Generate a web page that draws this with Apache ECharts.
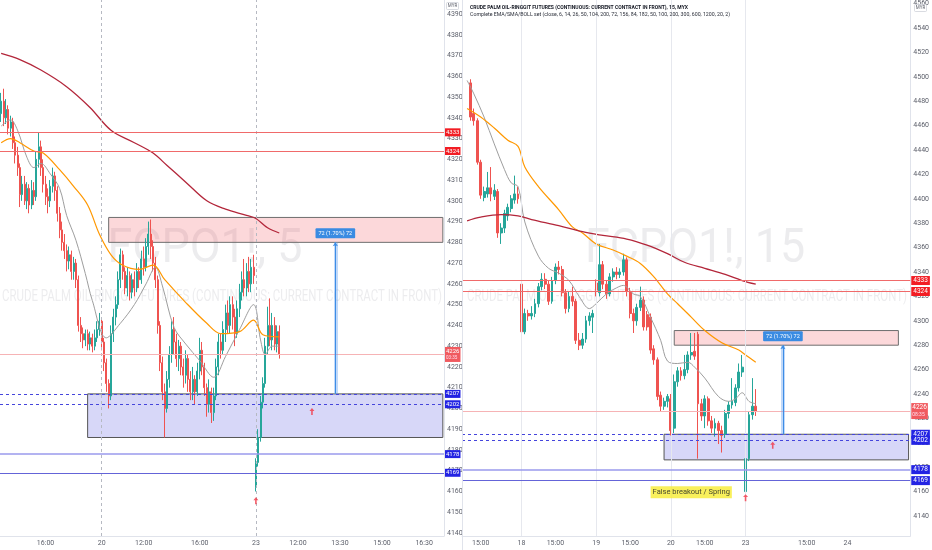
<!DOCTYPE html>
<html><head><meta charset="utf-8">
<script src="https://cdn.jsdelivr.net/npm/echarts/dist/echarts.min.js"></script>
<style>html,body{margin:0;padding:0;background:#fff}#c{width:932px;height:550px}</style>
</head><body><div id="c"></div>
<script>
// ---------- DATA ----------
// 5-minute panel (left): [open, close, low, high], first bar at category 0
const leftCandles = [
[4342,4348,4338,4352],[4348,4340,4336,4354],[4340,4344,4337,4349],[4344,4335,4332,4346],[4335,4338,4331,4341],
[4338,4328,4325,4340],[4328,4322,4318,4331],[4322,4316,4312,4326],[4316,4303,4297,4318],[4303,4308,4300,4312],
[4308,4300,4298,4312],[4300,4306,4296,4309],[4306,4298,4294,4308],[4298,4305,4296,4310],[4305,4302,4298,4309],
[4302,4320,4300,4324],[4320,4326,4316,4333],[4326,4316,4312,4329],[4316,4308,4304,4320],[4308,4302,4298,4312],
[4302,4300,4294,4306],[4300,4307,4297,4310],[4307,4312,4304,4316],[4312,4305,4300,4314],[4305,4294,4290,4307],
[4294,4286,4282,4297],[4286,4280,4276,4290],[4280,4276,4272,4284],[4276,4271,4266,4279],[4271,4274,4267,4278],
[4274,4266,4262,4276],[4266,4270,4262,4273],[4270,4262,4258,4272],[4262,4240,4237,4264],[4240,4236,4232,4244],
[4236,4233,4229,4239],[4233,4236,4230,4238],[4236,4231,4228,4238],[4231,4234,4228,4237],[4234,4230,4227,4236],
[4230,4234,4228,4238],[4234,4238,4232,4242],[4238,4242,4235,4246],
[4242,4232,4228,4244],[4232,4222,4218,4234],[4222,4212,4208,4224],[4212,4206,4200,4214],[4206,4236,4204,4240],
[4236,4244,4232,4248],[4244,4250,4240,4254],[4250,4262,4248,4266],[4262,4274,4258,4277],[4274,4266,4262,4276],
[4266,4258,4255,4268],[4258,4264,4254,4268],[4264,4256,4252,4266],[4256,4262,4253,4265],[4262,4258,4254,4266],
[4258,4266,4256,4270],[4266,4262,4258,4268],[4262,4272,4260,4276],[4272,4268,4264,4278],[4268,4278,4266,4282],
[4278,4284,4274,4290],[4284,4278,4272,4291],[4278,4270,4266,4281],[4270,4262,4258,4273],[4262,4240,4236,4264],
[4240,4222,4218,4242],[4222,4208,4204,4225],[4208,4200,4186,4212],[4200,4214,4198,4218],[4214,4226,4210,4230],
[4226,4238,4222,4242],[4238,4232,4226,4244],[4232,4224,4220,4236],[4224,4230,4218,4233],[4230,4220,4216,4232],
[4220,4216,4210,4224],[4216,4224,4212,4228],[4224,4214,4208,4226],[4214,4208,4204,4218],[4208,4214,4204,4220],
[4214,4208,4202,4216],[4208,4218,4206,4222],[4218,4228,4214,4234],[4228,4220,4216,4232],[4220,4210,4206,4222],
[4210,4202,4196,4212],[4202,4208,4198,4214],[4208,4198,4193,4210],[4198,4206,4194,4210],[4206,4220,4204,4224],
[4220,4232,4216,4236],[4232,4228,4224,4236],[4228,4238,4226,4242],[4238,4246,4232,4250],[4246,4240,4236,4252],
[4240,4250,4236,4254],[4250,4244,4238,4254],[4244,4236,4230,4248],[4236,4248,4234,4252],[4248,4256,4244,4260],
[4256,4262,4252,4266],[4262,4258,4254,4272],[4258,4266,4254,4270],[4266,4260,4256,4273],[4260,4268,4256,4272],
[4268,4264,4260,4274],
[4162,4174,4160,4176],[4174,4186,4172,4190],[4186,4203,4184,4206],[4203,4212,4200,4215],[4212,4230,4210,4234],
[4230,4240,4226,4249],[4240,4233,4230,4253],[4233,4240,4228,4246],[4240,4231,4228,4244],[4231,4237,4227,4240],
[4237,4226,4224,4240]
];
const leftFirstIndex = 0;
// 15-minute panel (right): [open, close, low, high], first bar at category 2
const rightCandles = [
[4495,4467,4464,4498],[4470,4464,4460,4474],[4464,4430,4428,4466],[4430,4403,4400,4432],[4401,4406,4398,4410],
[4404,4409,4401,4422],[4409,4404,4398,4426],[4402,4407,4399,4412],[4406,4372,4368,4408],[4372,4376,4363,4380],
[4376,4388,4372,4391],[4386,4393,4382,4396],[4392,4400,4389,4403],[4399,4404,4396,4419],[4404,4400,4396,4410],
[4330,4291,4288,4342],[4291,4306,4289,4310],[4306,4304,4300,4309],[4304,4306,4301,4312],[4306,4314,4303,4318],
[4314,4328,4311,4331],[4328,4334,4325,4339],[4334,4330,4326,4339],[4330,4316,4313,4333],[4316,4333,4314,4336],
[4333,4344,4330,4347],[4344,4342,4338,4349],[4342,4323,4320,4345],[4323,4310,4306,4326],[4310,4320,4307,4324],
[4320,4316,4312,4328],[4316,4284,4281,4318],[4284,4280,4276,4290],[4280,4285,4277,4290],[4285,4300,4282,4304],
[4300,4304,4296,4307],[4303,4306,4290,4309],
[4331,4325,4320,4334],[4323,4346,4320,4363],[4346,4330,4326,4349],[4330,4322,4318,4333],[4322,4336,4320,4339],
[4336,4340,4332,4343],[4340,4338,4334,4344],[4338,4340,4335,4343],[4340,4350,4337,4355],[4350,4324,4320,4352],
[4324,4306,4302,4327],[4306,4300,4290,4310],[4300,4311,4296,4314],[4311,4317,4308,4328],[4317,4295,4292,4320],
[4305,4295,4292,4308],[4303,4276,4273,4306],[4277,4268,4264,4280],[4268,4238,4235,4270],[4239,4230,4226,4242],
[4230,4234,4227,4237],[4234,4238,4229,4240],
[4236,4210,4206,4240],[4212,4250,4208,4256],[4250,4259,4246,4262],[4259,4255,4251,4262],[4255,4260,4252,4272],
[4260,4272,4257,4275],[4272,4274,4268,4290],[4275,4271,4268,4290],[4289,4232,4187,4291],[4232,4222,4218,4236],
[4222,4236,4212,4239],[4236,4218,4214,4238],[4218,4212,4208,4222],[4212,4216,4205,4220],[4216,4210,4199,4218],
[4210,4206,4192,4214],[4207,4224,4204,4227],[4224,4231,4220,4234],[4231,4234,4228,4253],[4233,4245,4230,4248],
[4245,4258,4242,4265],[4258,4262,4254,4272],
[4160,4187,4159,4190],[4187,4223,4185,4226],[4223,4230,4219,4253],[4230,4226,4222,4244]
];
const rightFirstIndex = 2;

// moving averages: [category index, value]
const leftFast = [[0,4336],[4,4339],[7,4334],[11,4321],[14,4316],[17,4318],[21,4313],[25,4306],[28,4293],[32,4281],[36,4265],[39,4252],[45,4234],[51,4241],[57,4250],[62,4260],[66,4268],[69,4259],[74,4239],[79,4231],[85,4223],[91,4215],[96,4225],[102,4238],[108,4250],[111,4233],[113,4226],[116,4230],[119,4230]];
const leftMid = [[0,4328],[4,4330],[8,4328],[14,4324],[18,4323],[25,4315],[31,4307],[37,4298],[42,4284],[47,4274],[52,4269],[59,4267],[65,4269],[70,4262],[79,4251],[88,4241],[94,4236],[102,4237],[108,4242.5],[112,4235.5],[119,4234.5]];
const leftSlow = [[0,4371],[8,4368],[17,4363],[28,4355],[38,4345],[47,4334],[57,4328],[65,4323],[71,4317],[79,4309],[88,4300],[96,4296],[105,4293],[109,4291.5],[114,4287],[119,4284.5]];
const rightFast = [[1,4497],[3,4486],[6,4467],[9,4445],[12,4424],[14,4413],[16,4410],[18,4381],[22,4353],[25,4343],[28,4339],[31,4333],[34,4320],[37,4310],[39,4314],[42,4322],[45,4327],[47,4329],[50,4322],[52,4320],[55,4303],[58,4284],[60,4267],[63,4265],[66,4266],[68,4262],[71,4253],[75,4238],[78,4234],[80,4236],[82,4241],[84,4234],[86,4232]];
const rightMid = [[1,4474],[5,4467],[9,4458],[13,4448],[16,4443],[18,4426],[22,4410],[28,4391],[32,4377],[35,4372],[39,4363],[44,4358],[48,4353],[52,4347],[56,4336],[60,4322],[63,4314],[67,4303],[71,4292],[76,4282],[81,4276],[83,4272],[86,4266]];
const rightSlow = [[1,4382],[5,4385],[11,4387],[16,4386],[20,4383],[28,4378],[35,4373],[41,4370],[48,4367],[54,4362],[60,4355],[65,4348],[71,4343],[77,4338],[82,4333],[86,4330]];

// price levels
const resistanceLevels = [4333, 4324];
const dashedLevels = [4207, 4202];
const supportLevels = [4178, 4169];
const lastPrice = 4226;
const leftCountdown = '03:35';
const rightCountdown = '08:35';
const supplyZone = [4280, 4292];
const demandZone = [4186, 4207];
const leftZoneIdx = { supply: [46, 189], demand: [37, 189] };
const rightZoneIdx = { supply: [62, 128], demand: [59, 131] };
const measure = { from: 4207, to: 4280, text: '72 (1.70%) 72', leftIdx: 143, rightIdx: 94 };
const leftArrows = [[133, 4198.5], [109, 4155.5]];
const rightArrows = [[91, 4198], [83, 4155]];
const noteText = 'False breakout / Spring';
const notePoint = [67, 4159.5];
const leftDaySeps = [43, 109];
const rightDaySeps = [17, 39, 61, 83];

// axis categories & tick labels
const leftCount = 190, rightCount = 132;
const leftTickIdx = [19, 43, 61, 85, 109, 127, 145, 163, 181];
const leftTickText = ['16:00', '20', '12:00', '16:00', '23', '12:00', '13:30', '15:00', '16:30'];
const rightTickIdx = [5, 17, 27, 39, 49, 61, 71, 83, 101, 113];
const rightTickText = ['15:00', '18', '15:00', '19', '15:00', '20', '15:00', '23', '15:00', '24'];

const titleLine1 = 'CRUDE PALM OIL-RINGGIT FUTURES (CONTINUOUS: CURRENT CONTRACT IN FRONT), 15, MYX';
const titleLine2 = 'Complete EMA/SMA/BOLL set (close, 6, 14, 26, 50, 104, 200, 72, 156, 84, 182, 50, 100, 200, 300, 600, 1200, 20, 2)';
const wmLeft = 'FCPO1!, 5', wmRight = 'FCPO1!, 15';
const wmSub = 'CRUDE PALM OIL-RINGGIT FUTURES (CONTINUOUS: CURRENT CONTRACT IN FRONT)';

// ---------- CHART ----------
const UP = '#26a69a', DOWN = '#ef5350';
const RED_LBL = '#f21d24', BLUE_LBL = '#2323e3', LAST_LBL = '#f05a5f';
const ARROW = 'path://M5,0 L10,5 L6.6,5 L6.6,12 L3.4,12 L3.4,5 L0,5 Z';
const mctx = document.createElement('canvas').getContext('2d');
function fit(text, font, w) { mctx.font = font; return w / mctx.measureText(text).width; }

function levelLines(labelSize, pad) {
  const lbl = (bg) => ({ show: true, position: 'end', distance: 1, color: '#fff', backgroundColor: bg,
    fontSize: labelSize, fontFamily: 'Roboto', padding: pad, formatter: '{c}' });
  const out = [];
  resistanceLevels.forEach(v => out.push({ yAxis: v, lineStyle: { color: '#f06a6a', width: 1, type: 'solid' }, label: lbl(RED_LBL) }));
  dashedLevels.forEach(v => out.push({ yAxis: v, lineStyle: { color: '#4545dc', width: 1, type: [3, 3] }, label: lbl(BLUE_LBL) }));
  out.push({ yAxis: supportLevels[0], lineStyle: { color: '#9a9aec', width: 1.6, type: 'solid' }, label: lbl(BLUE_LBL) });
  out.push({ yAxis: supportLevels[1], lineStyle: { color: '#6464d8', width: 1, type: 'solid' }, label: lbl(BLUE_LBL) });
  return out;
}
function lastLine(countdown, labelSize) {
  return { yAxis: lastPrice, lineStyle: { color: '#f6b3b5', width: 1, type: 'solid' },
    label: { show: true, position: 'end', distance: 1, backgroundColor: LAST_LBL, color: '#fff', fontFamily: 'Roboto',
      padding: [1, 1], formatter: '{a|' + lastPrice + '}\n{b|' + countdown + '}',
      rich: { a: { fontSize: labelSize, lineHeight: labelSize + 1, color: '#fff' }, b: { fontSize: labelSize - 1.5, lineHeight: labelSize, color: '#fde' } } } };
}
function daySepLines(idx, dashed) {
  return idx.map(i => ({ xAxis: i, lineStyle: dashed ? { color: '#b6b9c2', width: 1, type: [3, 3] } : { color: '#e6e8ee', width: 1, type: 'solid' }, label: { show: false } }));
}
function measureLine(i) {
  return [
    [{ coord: [i, measure.from], symbol: 'none', lineStyle: { color: 'rgba(100,160,240,0.4)', width: 4, type: 'solid' }, label: { show: false } },
     { coord: [i, measure.to], symbol: 'none' }],
    [{ coord: [i, measure.from], symbol: 'none', lineStyle: { color: '#3d8de6', width: 1, type: 'solid' },
       label: { show: true, position: 'end', distance: 4, formatter: measure.text, color: '#fff', backgroundColor: '#3a8be2',
         fontSize: 5.5, fontFamily: 'Roboto', padding: [2, 3], borderRadius: 1 } },
     { coord: [i, measure.to], symbol: 'arrow', symbolSize: 4 }]
  ];
}
function zones(z) {
  return [
    [{ xAxis: z.supply[0], yAxis: supplyZone[1], itemStyle: { color: 'rgba(242,90,100,0.24)', borderColor: '#6e6e6e', borderWidth: 1 } },
     { xAxis: z.supply[1], yAxis: supplyZone[0] }],
    [{ xAxis: z.demand[0], yAxis: demandZone[1], itemStyle: { color: 'rgba(110,110,230,0.28)', borderColor: '#555', borderWidth: 1 } },
     { xAxis: z.demand[1], yAxis: demandZone[0] }]
  ];
}
function candles(data, first) { return data.map((d, k) => [k + first, d[0], d[1], d[2], d[3]]); }
function maLine(data, color, width, g) {
  return { type: 'line', xAxisIndex: g, yAxisIndex: g, data, smooth: 0.35, showSymbol: false, clip: false, z: 4,
    lineStyle: { color, width }, silent: true };
}
function xAxisFor(g, count, idx, txt) {
  return { type: 'category', gridIndex: g, data: Array.from({ length: count }, (_, i) => String(i)), boundaryGap: true,
    axisLine: { show: true, lineStyle: { color: '#e0e3eb' } }, axisTick: { show: false }, splitLine: { show: false },
    axisLabel: { fontSize: 7, color: '#5d606b', fontFamily: 'Roboto', margin: 4,
      interval: (i) => idx.indexOf(i) >= 0, formatter: (v, i) => { const k = idx.indexOf(i); return k >= 0 ? txt[k] : ''; } } };
}

const wmFont = '49px Roboto';
const wmScale = fit(wmLeft, wmFont, 195);
const subFont = '17px Roboto';
const subScale = fit(wmSub, subFont, 440);
const t1Font = 'bold 6px Roboto', t2Font = '6px Roboto';
const wmColor = 'rgba(120,123,134,0.14)';

const option = {
  animation: false,
  backgroundColor: '#ffffff',
  grid: [
    { left: 0, right: 488, top: 0, bottom: 14, containLabel: false },
    { left: 462, right: 20, top: 0, bottom: 14, containLabel: false }
  ],
  xAxis: [xAxisFor(0, leftCount, leftTickIdx, leftTickText), xAxisFor(1, rightCount, rightTickIdx, rightTickText)],
  yAxis: [
    { type: 'value', gridIndex: 0, position: 'right', min: 4138.55, max: 4396.74, minInterval: 10, maxInterval: 10, scale: true,
      axisLine: { show: true, lineStyle: { color: '#e0e3eb' } }, axisTick: { show: false }, splitLine: { show: false },
      axisLabel: { fontSize: 7, color: '#5d606b', fontFamily: 'Roboto', margin: 3, formatter: v => (Math.abs(v % 10) < 1e-6 ? String(v) : '') } },
    { type: 'value', gridIndex: 1, position: 'right', min: 4123.6, max: 4562.95, minInterval: 20, maxInterval: 20, scale: true,
      axisLine: { show: true, lineStyle: { color: '#e0e3eb' } }, axisTick: { show: false }, splitLine: { show: false },
      axisLabel: { fontSize: 7, color: '#5d606b', fontFamily: 'Roboto', margin: 3, formatter: v => (Math.abs(v % 20) < 1e-6 ? String(v) : '') } }
  ],
  graphic: [
    { type: 'text', x: 205, y: 250, scaleX: wmScale, z: 0, silent: true, style: { text: wmLeft, font: wmFont, fill: wmColor, textAlign: 'center', textVerticalAlign: 'middle' } },
    { type: 'text', x: 222, y: 297, scaleX: subScale, z: 0, silent: true, style: { text: wmSub, font: subFont, fill: wmColor, textAlign: 'center', textVerticalAlign: 'middle' } },
    { type: 'text', x: 695, y: 250, scaleX: wmScale, z: 0, silent: true, style: { text: wmRight, font: wmFont, fill: wmColor, textAlign: 'center', textVerticalAlign: 'middle' } },
    { type: 'text', x: 687, y: 297, scaleX: subScale, z: 0, silent: true, style: { text: wmSub, font: subFont, fill: wmColor, textAlign: 'center', textVerticalAlign: 'middle' } },
    { type: 'line', z: 10, silent: true, shape: { x1: 462.5, y1: 0, x2: 462.5, y2: 550 }, style: { stroke: '#e0e3eb', lineWidth: 1 } },
    { type: 'text', x: 470, y: 7, z: 10, silent: true, scaleX: fit(titleLine1, t1Font, 218), style: { text: titleLine1, font: t1Font, fill: '#131722', textVerticalAlign: 'middle' } },
    { type: 'text', x: 470, y: 14.5, z: 10, silent: true, scaleX: fit(titleLine2, t2Font, 260), style: { text: titleLine2, font: t2Font, fill: '#2a2e39', textVerticalAlign: 'middle' } },
    { type: 'rect', z: 10, silent: true, shape: { x: 446.5, y: 2.5, width: 12, height: 7, r: 1 }, style: { fill: '#fff', stroke: '#c9ccd4', lineWidth: 0.7 } },
    { type: 'text', z: 11, silent: true, x: 452.5, y: 6, style: { text: 'MYR', font: '4.5px Roboto', fill: '#5d606b', textAlign: 'center', textVerticalAlign: 'middle' } },
    { type: 'rect', z: 10, silent: true, shape: { x: 914.5, y: 4.5, width: 12, height: 7, r: 1 }, style: { fill: '#fff', stroke: '#c9ccd4', lineWidth: 0.7 } },
    { type: 'text', z: 11, silent: true, x: 920.5, y: 8, style: { text: 'MYR', font: '4.5px Roboto', fill: '#5d606b', textAlign: 'center', textVerticalAlign: 'middle' } }
  ],
  series: [
    { type: 'candlestick', xAxisIndex: 0, yAxisIndex: 0, clip: false, z: 3,
      dimensions: ['x', 'open', 'close', 'low', 'high'], encode: { x: 'x', y: ['open', 'close', 'low', 'high'] },
      data: candles(leftCandles, leftFirstIndex), barWidth: 1.5,
      itemStyle: { color: UP, color0: DOWN, borderColor: UP, borderColor0: DOWN, borderWidth: 1 },
      markArea: { silent: true, z: 1, data: zones(leftZoneIdx) },
      markLine: { silent: true, symbol: ['none', 'none'], z: 5,
        data: daySepLines(leftDaySeps, true).concat(levelLines(6, [1, 1]), [lastLine(leftCountdown, 6)], measureLine(measure.leftIdx)) } },
    maLine(leftFast, '#9e9e9e', 1, 0),
    maLine(leftMid, '#ff9800', 1.2, 0),
    maLine(leftSlow, '#b3263a', 1.3, 0),
    { type: 'scatter', xAxisIndex: 0, yAxisIndex: 0, symbol: ARROW, symbolSize: [5, 7], clip: false, z: 6, silent: true,
      itemStyle: { color: '#f23645' }, data: leftArrows },

    { type: 'candlestick', xAxisIndex: 1, yAxisIndex: 1, clip: false, z: 3,
      dimensions: ['x', 'open', 'close', 'low', 'high'], encode: { x: 'x', y: ['open', 'close', 'low', 'high'] },
      data: candles(rightCandles, rightFirstIndex), barWidth: 2.4,
      itemStyle: { color: UP, color0: DOWN, borderColor: UP, borderColor0: DOWN, borderWidth: 1 },
      markArea: { silent: true, z: 1, data: zones(rightZoneIdx) },
      markLine: { silent: true, symbol: ['none', 'none'], z: 5,
        data: daySepLines(rightDaySeps, false).concat(levelLines(6.5, [1, 2]), [lastLine(rightCountdown, 6.5)], measureLine(measure.rightIdx)) } },
    maLine(rightFast, '#9e9e9e', 1, 1),
    maLine(rightMid, '#ff9800', 1.2, 1),
    maLine(rightSlow, '#b3263a', 1.3, 1),
    { type: 'scatter', xAxisIndex: 1, yAxisIndex: 1, symbol: ARROW, symbolSize: [5, 7], clip: false, z: 6, silent: true,
      itemStyle: { color: '#f23645' }, data: rightArrows },
    { type: 'scatter', xAxisIndex: 1, yAxisIndex: 1, symbolSize: 0, clip: false, z: 7, silent: true,
      data: [notePoint],
      label: { show: true, position: 'inside', formatter: noteText, color: '#131722', backgroundColor: '#f8ec32',
        fontSize: 7.5, fontFamily: 'Roboto', padding: [2, 2] } }
  ]
};
const chart = echarts.init(document.getElementById('c'), null, { renderer: 'canvas' });
chart.setOption(option);
</script></body></html>
